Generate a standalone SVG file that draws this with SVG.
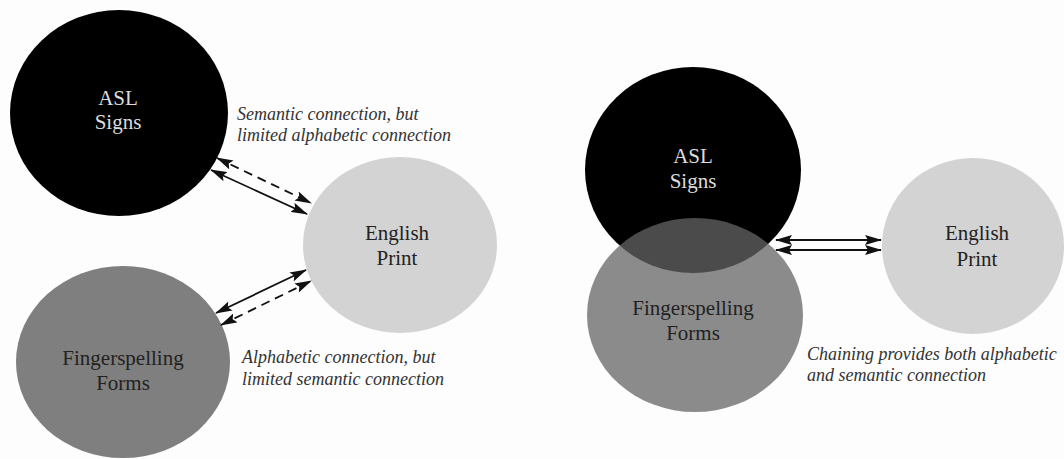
<svg xmlns="http://www.w3.org/2000/svg" width="1064" height="459" viewBox="0 0 1064 459">
<defs>
<style>
.lbl{font-family:"Liberation Serif","Times New Roman",serif;font-size:21px;text-anchor:middle}
.note{font-family:"Liberation Serif","Times New Roman",serif;font-size:18px;font-style:italic;fill:#333}
.light{fill:#dcdcdc}
.dark{fill:#222}
.ln{stroke:#111;stroke-width:1.8;fill:none;marker-start:url(#ah);marker-end:url(#ah)}
.dash{stroke-dasharray:9 6}
</style>
<marker id="ah" viewBox="0 0 17 10" refX="16" refY="5" markerWidth="17" markerHeight="10" markerUnits="userSpaceOnUse" orient="auto-start-reverse">
<path d="M0,0 L17,5 L0,10 L3,5 z" fill="#111"/>
</marker>
</defs>
<rect width="1064" height="459" fill="#fdfdfd"/>
<g id="left-asl">
<ellipse cx="119" cy="113" rx="109" ry="103" fill="#000"/>
<text class="lbl light" x="118" y="105">ASL</text>
<text class="lbl light" x="118" y="129">Signs</text>
</g>
<g id="left-english">
<ellipse cx="400" cy="245" rx="97" ry="88" fill="#d3d3d3"/>
<text class="lbl dark" x="397" y="240">English</text>
<text class="lbl dark" x="397" y="265">Print</text>
</g>
<g id="left-finger">
<ellipse cx="123" cy="362" rx="107" ry="96" fill="#7f7f7f"/>
<text class="lbl dark" x="123" y="365">Fingerspelling</text>
<text class="lbl dark" x="123" y="390">Forms</text>
</g>
<g id="left-notes">
<text class="note" x="237" y="120">Semantic connection, but</text>
<text class="note" x="237" y="141">limited alphabetic connection</text>
<text class="note" x="242" y="363">Alphabetic connection, but</text>
<text class="note" x="242" y="385">limited semantic connection</text>
</g>
<g id="right-asl">
<ellipse cx="693" cy="170" rx="108" ry="103" fill="#000"/>
<text class="lbl light" x="693" y="163">ASL</text>
<text class="lbl light" x="693" y="188">Signs</text>
</g>
<g id="right-finger">
<ellipse cx="695" cy="315" rx="108" ry="97" fill="#646464" fill-opacity="0.75"/>
<text class="lbl dark" x="693" y="315">Fingerspelling</text>
<text class="lbl dark" x="693" y="340">Forms</text>
</g>
<g id="right-english">
<ellipse cx="973" cy="246" rx="91" ry="88" fill="#d3d3d3"/>
<text class="lbl dark" x="977" y="240">English</text>
<text class="lbl dark" x="977" y="266">Print</text>
</g>
<g id="right-notes">
<text class="note" x="807" y="360">Chaining provides both alphabetic</text>
<text class="note" x="807" y="381">and semantic connection</text>
</g>
<g id="connectors">
<line class="ln dash" x1="217" y1="158" x2="311" y2="203"/>
<line class="ln" x1="211" y1="170" x2="307" y2="214"/>
<line class="ln" x1="216" y1="313" x2="306" y2="270"/>
<line class="ln dash" x1="221" y1="325" x2="311" y2="281"/>
<line class="ln" x1="776" y1="240" x2="881" y2="240"/>
<line class="ln" x1="776" y1="250" x2="881" y2="250"/>
</g>
</svg>
